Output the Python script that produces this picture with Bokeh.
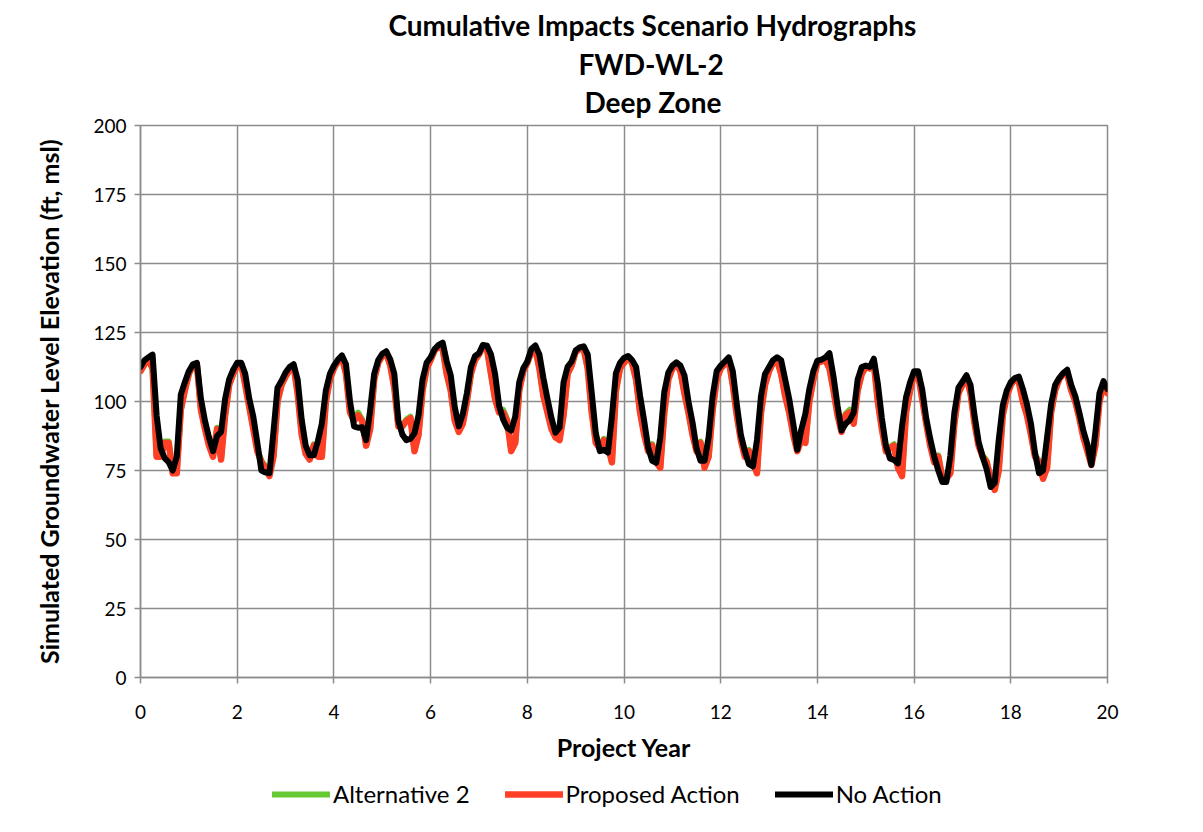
import numpy as np
from bokeh.plotting import figure
from bokeh.layouts import column
from bokeh.models import Range1d, Legend, LegendItem, Title, SingleIntervalTicker
from bokeh.embed import file_html
from bokeh.resources import INLINE

# Monthly simulated groundwater level (ft, msl), project years 0..20
no_action = [
    112.5, 115, 116, 117, 95, 83, 79.5, 78, 75, 80, 102.5, 107,
    111, 113.5, 114, 101, 93, 87, 82, 87.5, 89, 101, 108, 111.5,
    114, 114, 110, 101, 94.5, 85, 75, 74.3, 74, 89, 105, 107.5,
    110.5, 112.5, 113.5, 108, 93.5, 84, 80.5, 80.5, 85.5, 92, 104, 110,
    113, 115.2, 116.7, 113.5, 100, 91, 90.5, 90.7, 86, 97, 110, 115,
    117.3, 118.2, 115.2, 110, 93, 88, 86, 86.5, 88.5, 95, 108, 114,
    116, 119, 120.5, 121.3, 114.5, 109.5, 98, 91, 95.5, 103, 112.5, 116.4,
    117.5, 120.5, 120.2, 117, 110, 98.5, 93.5, 90.5, 89.5, 94.5, 107, 112,
    114.5, 119, 120.3, 117, 108.5, 101, 94, 88.7, 90.5, 107, 112.6, 114.5,
    118.5, 119.6, 120, 117, 103, 88.5, 82, 82.5, 81.5, 94.5, 110.3, 114,
    115.8, 116.5, 115, 112.5, 102, 93, 83.3, 78.5, 77.8, 87, 103.5, 110.5,
    113, 114.2, 113, 109.5, 100, 92.5, 83, 78.5, 78.5, 87, 102, 111,
    113, 114.5, 116, 111, 99, 88, 82, 77.3, 76.5, 86, 102, 110,
    112.5, 115, 116, 115, 108, 101, 92, 82.5, 89.8, 95.5, 104.5, 111,
    114.8, 115.2, 116, 117.5, 109, 98.5, 89.5, 91.9, 93.2, 96, 108, 112.5,
    113, 112.5, 115.5, 106.5, 94, 84, 79.4, 78.8, 77.6, 91, 101.5, 107,
    111, 111, 104.5, 94, 86.5, 80, 75, 70.8, 70.8, 80.4, 96, 105,
    107.2, 109.5, 106, 95, 85.5, 80, 75.5, 69, 70.5, 86, 98.5, 104,
    107, 108.5, 109, 104.5, 99, 92, 81.5, 74, 75, 87, 99, 106,
    108.5, 110.3, 111.5, 106, 102, 96, 89.5, 84.5, 77, 89, 103, 107.4,
    104.5,
]

proposed_action = [
    111, 113.5, 115, 112, 80, 80, 85, 85, 74, 74, 97, 104,
    110, 113, 113.5, 97, 90, 84, 80, 90, 79, 95, 106, 110,
    113, 113.5, 106, 98, 90, 82, 78, 76, 73, 80, 100, 106,
    109, 111.5, 113, 103, 88, 81, 79, 84, 80, 80, 100, 108,
    112, 114.5, 116, 110, 96, 93, 95, 93, 84, 90, 108, 114,
    116.5, 117.5, 113, 105, 91, 91, 93, 94, 82, 88, 104, 112,
    115, 118.5, 120, 119, 110, 104, 93, 89, 92, 100, 110, 115,
    117, 120, 119, 110, 101, 96, 96, 93, 82, 85, 104, 111,
    114, 118, 119, 112, 102, 96, 90, 87, 86, 95, 110, 113,
    118, 119, 119, 112, 96, 85, 83, 86, 84, 78, 104, 112,
    114, 116, 114, 108, 96, 88, 82, 84, 78, 76, 96, 108,
    112, 113.5, 111, 103, 96, 88, 82, 85, 76, 80, 97, 108,
    112, 113.5, 115, 106, 95, 86, 80, 82, 78, 74, 96, 106,
    111, 114, 115, 110, 102, 96, 88, 82, 86, 85, 100, 108,
    114, 114.5, 115, 112, 104, 95, 89, 95, 96, 92, 104, 110,
    112.5, 112, 114, 100, 90, 82, 83, 84, 76, 73, 96, 104,
    110, 110, 101, 92, 84, 78, 80, 72, 72, 74, 92, 103,
    106, 109, 103, 92, 84, 80, 78, 72, 68, 75, 95, 102,
    106, 108, 107, 100, 95, 88, 80, 78, 72, 76, 96, 104,
    108, 110, 110, 104, 100, 94, 87, 82, 77, 84, 100, 106,
    103,
]

alternative_2 = [
    111, 113.5, 115, 112, 80.5, 80.5, 85.5, 85.5, 74.5, 74.5, 97, 104,
    110, 113, 113.5, 97, 90.5, 84.5, 80.5, 90.5, 79.5, 95, 106, 110,
    113, 113.5, 106, 98, 90.5, 82.5, 78.5, 76.5, 73.5, 80, 100, 106,
    109, 111.5, 113, 103, 88.5, 81.5, 79.5, 84.5, 80.5, 80, 100, 108,
    112, 114.5, 116, 110, 96.5, 93.5, 96, 93.5, 84.5, 90, 108, 114,
    116.5, 117.5, 113, 105, 91.5, 91.5, 93.5, 94.5, 82.5, 88, 104, 112,
    115, 118.5, 120, 119, 110, 104, 93.5, 89.5, 92, 100, 110, 115,
    117, 120.5, 119, 110, 101, 96.5, 97, 93.5, 82.5, 85, 104, 111,
    114, 118, 119, 112, 102, 96.5, 90.5, 87.5, 86.5, 95, 110, 113,
    118, 119, 119, 112, 96, 85.5, 83.5, 86.5, 84.5, 78, 104, 112,
    114, 116, 114, 108, 96, 88.5, 82.5, 84.5, 78.5, 76, 96, 108,
    112, 113.5, 111, 103, 96, 88.5, 82.5, 85.5, 76.5, 80, 97, 108,
    112, 113.5, 115, 106, 95, 86.5, 80.5, 82.5, 78.5, 74, 96, 106,
    111, 114, 115, 110, 102, 96, 88.5, 82.5, 86.5, 85, 100, 108,
    114, 114.5, 115, 112, 104, 95.5, 89.5, 95.5, 97, 92.5, 104, 110,
    112.5, 112, 114, 100, 90.5, 82.5, 83.5, 84.5, 76.5, 73.5, 96, 104,
    110, 110, 101, 92.5, 84.5, 78.5, 80.5, 72.5, 72.5, 74.5, 92, 103,
    106, 109, 103, 92.5, 84.5, 80.5, 78.5, 72.5, 68.5, 75, 95, 102,
    106, 108, 107, 100, 95.5, 88.5, 80.5, 78.5, 72.5, 76, 96, 104,
    108, 110, 110, 104, 100, 94.5, 87.5, 82.5, 77.5, 84, 100, 106,
    103,
]

months_per_year = 12
project_year = np.arange(len(no_action)) / months_per_year

title_lines = ["Cumulative Impacts Scenario Hydrographs", "FWD-WL-2", "Deep Zone"]
series_names = ["Alternative 2", "Proposed Action", "No Action"]
series_colors = ["#66c833", "#ff3f26", "black"]
series_widths = [6, 6.5, 6]

FONT = "Lato"
GRID = "#8c8c8c"

p = figure(
    frame_width=967, frame_height=552,
    x_range=Range1d(0, 20), y_range=Range1d(0, 200),
    output_backend="svg", toolbar_location=None, title=None,
    min_border_left=140, min_border_right=96,
    min_border_top=125, min_border_bottom=95,
)
p.background_fill_color = "white"
p.border_fill_color = "white"
p.outline_line_color = GRID
p.outline_line_width = 1.5

p.xgrid.grid_line_color = GRID
p.ygrid.grid_line_color = GRID
p.xgrid.grid_line_width = 1.5
p.ygrid.grid_line_width = 1.5

p.xaxis.ticker = SingleIntervalTicker(interval=2)
p.yaxis.ticker = SingleIntervalTicker(interval=25)
for ax in (p.xaxis, p.yaxis):
    ax.axis_line_color = GRID
    ax.axis_line_width = 1.5
    ax.major_tick_line_color = GRID
    ax.major_tick_line_width = 1.5
    ax.major_tick_out = 6
    ax.major_tick_in = 0
    ax.minor_tick_line_color = None
    ax.major_label_text_font = FONT
    ax.major_label_text_font_size = "19px"
    ax.major_label_text_color = "black"
    ax.axis_label_text_font = FONT
    ax.axis_label_text_font_size = "25px"
    ax.axis_label_text_font_style = "bold"
    ax.axis_label_text_color = "black"

p.xaxis.axis_label = "Project Year"
p.yaxis.axis_label = "Simulated Groundwater Level Elevation (ft, msl)"
p.xaxis.major_label_standoff = 21
p.xaxis.axis_label_standoff = 10
p.yaxis.major_label_standoff = 8
p.yaxis.axis_label_standoff = 26

series = [alternative_2, proposed_action, no_action]
for vals, col, lw in zip(series, series_colors, series_widths):
    p.line(project_year, vals, line_color=col, line_width=lw,
           line_join="round", line_cap="round")

# titles: closest to the plot added first (a small spacer, then the three lines)
p.add_layout(Title(text=" ", text_font_size="4px", standoff=0), "above")
title_offsets = [248, 438, 444]
title_standoffs = [2, 4, 0]
for txt, off, so in reversed(list(zip(title_lines, title_offsets, title_standoffs))):
    p.add_layout(Title(text=txt, align="left", offset=off, text_font=FONT,
                       text_font_size="28px", text_font_style="bold",
                       text_color="black", standoff=so), "above")

# legend strip below the chart (its frame is aligned with the chart's frame)
lg = figure(width=1203, height=60, x_range=Range1d(0, 1), y_range=Range1d(0, 1),
            output_backend="svg", toolbar_location=None, title=None,
            x_axis_location=None, y_axis_location=None, min_border=0)
lg.grid.visible = False
lg.outline_line_color = None
lg.background_fill_color = "white"
lg.border_fill_color = "white"
items = []
for name, vals, col, lw in zip(series_names, series, series_colors, series_widths):
    # same series, outside this strip's ranges: only its legend swatch shows
    r = lg.line(project_year, vals, line_color=col, line_width=lw, line_cap="round")
    items.append(LegendItem(label=name, renderers=[r]))
legend = Legend(items=items, orientation="horizontal", location=(132, 24))
legend.label_text_font = FONT
legend.label_text_font_size = "24px"
legend.label_text_color = "black"
legend.glyph_width = 58
legend.glyph_height = 26
legend.spacing = 35
legend.label_standoff = 3
legend.border_line_color = None
legend.background_fill_alpha = 0
legend.padding = 0
legend.margin = 0
lg.add_layout(legend, "center")

layout = column(p, lg, spacing=0)
open("out.html", "w").write(file_html(layout, INLINE))
